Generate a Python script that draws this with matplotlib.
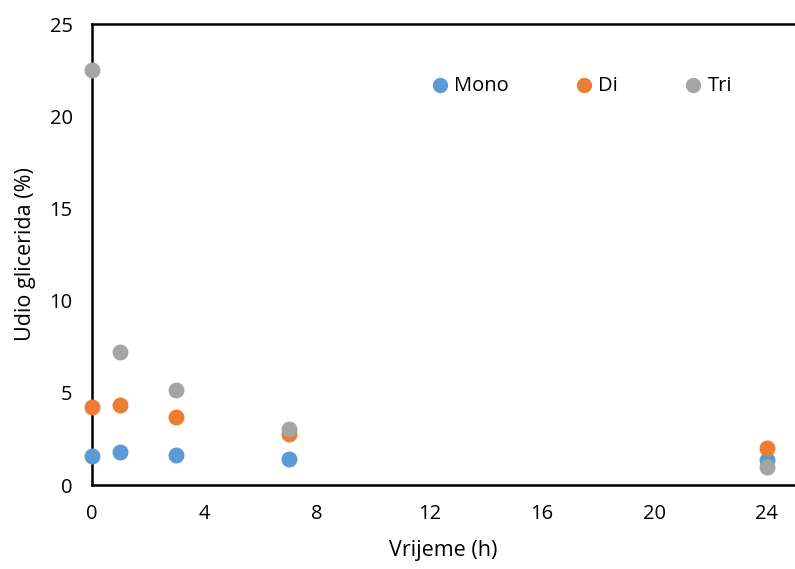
import matplotlib.pyplot as plt

plt.rcParams['font.family'] = ['Open Sans', 'DejaVu Sans']

hours = [0, 1, 3, 7, 24]
mono = [1.57, 1.77, 1.63, 1.39, 1.36]
di = [4.22, 4.32, 3.67, 2.77, 2.0]
tri = [22.5, 7.23, 5.15, 3.04, 0.96]

x_ticks = [0, 4, 8, 12, 16, 20, 24]
y_ticks = [0, 5, 10, 15, 20, 25]

fig = plt.figure(figsize=(7.95, 5.69), dpi=100)
ax = fig.add_axes([0.1157, 0.1476, 0.8843, 0.8102])

ax.scatter(hours, mono, s=110, color='#5B9BD5', label='Mono', zorder=3, clip_on=False)
ax.scatter(hours, di, s=110, color='#ED7D31', label='Di', zorder=3, clip_on=False)
ax.scatter(hours, tri, s=110, color='#A5A5A5', label='Tri', zorder=3, clip_on=False)

ax.set_xlim(0, 25)
ax.set_ylim(0, 25)
ax.set_xticks(x_ticks)
ax.set_yticks(y_ticks)
ax.tick_params(length=0, labelsize=14.5)
ax.tick_params(axis='y', pad=14)
ax.tick_params(axis='x', pad=14)

ax.spines['right'].set_visible(False)
for side in ['left', 'bottom', 'top']:
    ax.spines[side].set_linewidth(1.8)
    ax.spines[side].set_color('black')

ax.set_xlabel('Vrijeme (h)', fontsize=15.5, labelpad=11)
ax.set_ylabel('Udio glicerida (%)', fontsize=15.5, labelpad=10)

ax.legend(loc='center', bbox_to_anchor=(0.688, 0.866), ncol=3, frameon=False,
          fontsize=14.5, handletextpad=-0.3, columnspacing=2.75, markerscale=0.95)

fig.savefig('out.png', dpi=100)
